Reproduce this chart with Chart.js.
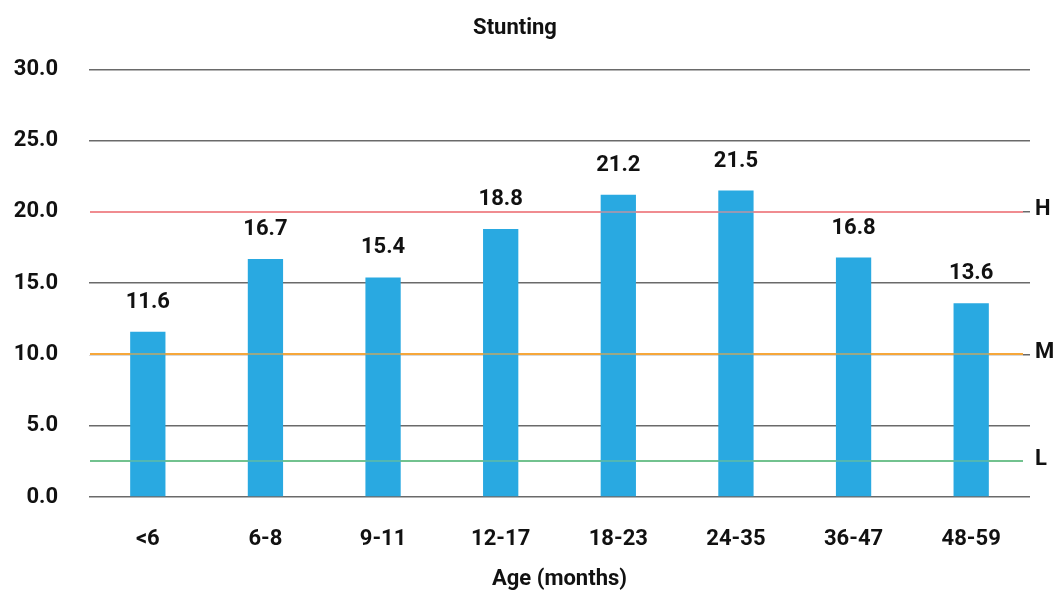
<!DOCTYPE html>
<html lang="en">
<head>
  <meta charset="UTF-8">
  <title>Stunting</title>
  <script src="https://cdn.jsdelivr.net/npm/chart.js"></script>
  <style>
    body {
      margin: 0;
      background-color: #ffffff;
    }
    .chart-container {
      width: 1055px;
      height: 596px;
    }
  </style>
</head>
<body>
  <div class="chart-container">
    <canvas id="stuntingChart" width="1055" height="596"></canvas>
  </div>

  <script>
    const ageGroups = ['<6', '6-8', '9-11', '12-17', '18-23', '24-35', '36-47', '48-59'];
    const stuntingValues = [11.6, 16.7, 15.4, 18.8, 21.2, 21.5, 16.8, 13.6];

    // prevalence thresholds (high / medium / low)
    const thresholdValues = [20, 10, 2.5];
    const thresholdLabels = ['H', 'M', 'L'];
    const thresholdColors = ['#F08C90', '#F6A73A', '#72C28F'];

    const fontFamily = 'Roboto, "DejaVu Sans", sans-serif';
    const textFont = { family: fontFamily, size: 22, weight: 'bold' };

    // value labels above each bar
    const barLabels = {
      id: 'barLabels',
      afterDatasetsDraw(chart) {
        const ctx = chart.ctx;
        const meta = chart.getDatasetMeta(0);
        ctx.save();
        ctx.font = 'bold 22px ' + fontFamily;
        ctx.fillStyle = '#111';
        ctx.textAlign = 'center';
        ctx.textBaseline = 'alphabetic';
        meta.data.forEach((bar, i) => {
          ctx.fillText(stuntingValues[i].toFixed(1), bar.x, bar.y - 24);
        });
        ctx.restore();
      }
    };

    function strokeThresholds(chart, alpha, clearFirst) {
      const ctx = chart.ctx;
      const area = chart.chartArea;
      const y = chart.scales.y;
      ctx.save();
      thresholdValues.forEach((v, i) => {
        const py = Math.round(y.getPixelForValue(v));
        if (clearFirst) {
          // wipe the grid line underneath so only the coloured line shows
          ctx.globalAlpha = 1;
          ctx.strokeStyle = '#ffffff';
          ctx.lineWidth = 3;
          ctx.beginPath();
          ctx.moveTo(area.left, py);
          ctx.lineTo(area.right - 7, py);
          ctx.stroke();
        }
        ctx.globalAlpha = alpha;
        ctx.lineWidth = 2;
        ctx.strokeStyle = thresholdColors[i];
        ctx.beginPath();
        ctx.moveTo(area.left + 1, py);
        ctx.lineTo(area.right - 7, py);
        ctx.stroke();
      });
      ctx.restore();
    }

    // threshold lines: solid under the bars, tinted over them, H/M/L tags on the right
    const thresholdLines = {
      id: 'thresholdLines',
      beforeDatasetsDraw(chart) {
        strokeThresholds(chart, 1, true);
      },
      afterDatasetsDraw(chart) {
        strokeThresholds(chart, 0.55, false);
        const ctx = chart.ctx;
        const area = chart.chartArea;
        const y = chart.scales.y;
        ctx.save();
        ctx.font = 'bold 22px ' + fontFamily;
        ctx.fillStyle = '#111';
        ctx.textAlign = 'left';
        ctx.textBaseline = 'middle';
        thresholdValues.forEach((v, i) => {
          ctx.fillText(thresholdLabels[i], area.right + 5, y.getPixelForValue(v) - 2);
        });
        ctx.restore();
      }
    };

    new Chart(document.getElementById('stuntingChart'), {
      type: 'bar',
      data: {
        labels: ageGroups,
        datasets: [{
          label: 'Stunting',
          data: stuntingValues,
          backgroundColor: '#29A9E1',
          barPercentage: 0.3,
          categoryPercentage: 1.0
        }]
      },
      options: {
        responsive: false,
        animation: false,
        layout: {
          padding: { top: 0, right: 25, left: 0, bottom: 0 }
        },
        plugins: {
          legend: { display: false },
          tooltip: { enabled: false },
          title: {
            display: true,
            text: 'Stunting',
            color: '#111',
            font: textFont,
            padding: { top: 15, bottom: 28 }
          }
        },
        scales: {
          x: {
            grid: { display: false },
            border: { display: false },
            ticks: {
              color: '#111',
              padding: 21,
              font: textFont
            },
            title: {
              display: true,
              text: 'Age (months)',
              color: '#111',
              font: textFont,
              padding: { top: 15, bottom: 3 }
            },
            afterFit(scale) {
              scale.height = 99;
            }
          },
          y: {
            min: 0,
            max: 30,
            border: { display: false },
            grid: {
              color: '#6a6a6a',
              lineWidth: 1.5,
              drawTicks: false
            },
            ticks: {
              stepSize: 5,
              color: '#111',
              padding: 31,
              font: textFont,
              callback: (v) => Number(v).toFixed(1)
            },
            afterFit(scale) {
              scale.width = 89;
            }
          }
        }
      },
      plugins: [barLabels, thresholdLines]
    });
  </script>
</body>
</html>
